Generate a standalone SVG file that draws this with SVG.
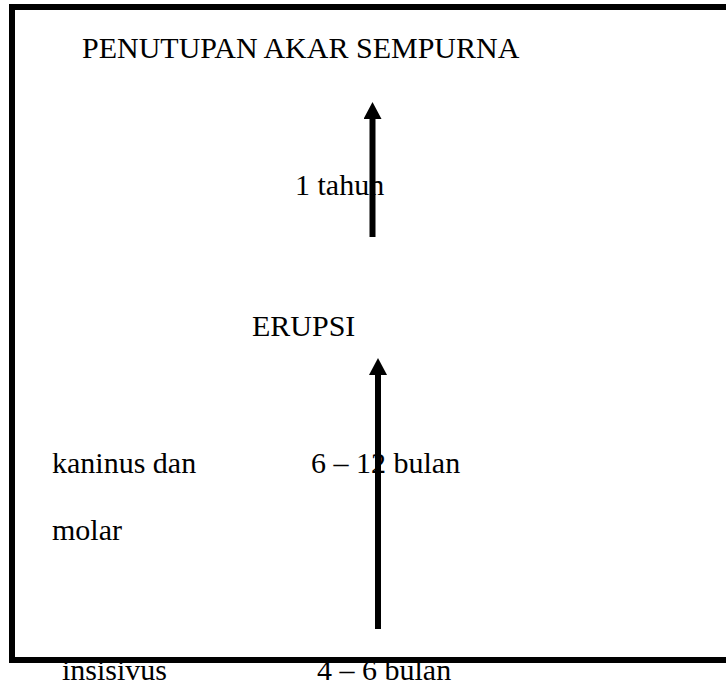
<svg xmlns="http://www.w3.org/2000/svg" width="726" height="686" viewBox="0 0 726 686">
  <style>
    .lbl { font-family: "Liberation Serif", "Times New Roman", serif; font-size: 30px; fill: #000; }
    .shaft { stroke: #000; stroke-width: 6; fill: none; marker-end: url(#head); }
    .frame { stroke: #000; stroke-width: 6; fill: none; }
  </style>
  <defs>
    <marker id="head" markerUnits="userSpaceOnUse" markerWidth="17" markerHeight="18" viewBox="0 0 17 18" refX="0" refY="9" orient="auto">
      <path d="M0,0 L17,9 L0,18 z" fill="#000"/>
    </marker>
  </defs>
  <rect width="726" height="686" fill="#fff"/>

  <g id="node-penutupan">
    <text class="lbl" x="82" y="58">PENUTUPAN AKAR SEMPURNA</text>
  </g>
  <g id="node-1tahun">
    <text class="lbl" x="295" y="195">1 tahun</text>
  </g>
  <g id="node-erupsi">
    <text class="lbl" x="252" y="336">ERUPSI</text>
  </g>
  <g id="node-kaninus">
    <text class="lbl" x="52" y="473">kaninus dan</text>
    <text class="lbl" x="52" y="540">molar</text>
  </g>
  <g id="node-6-12">
    <text class="lbl" x="311" y="473">6 – 12 bulan</text>
  </g>
  <g id="node-insisivus">
    <text class="lbl" x="62" y="680">insisivus</text>
  </g>
  <g id="node-4-6">
    <text class="lbl" x="317" y="680">4 – 6 bulan</text>
  </g>

  <g id="connectors">
    <line class="shaft" x1="372.5" y1="237" x2="372.5" y2="119"/>
    <line class="shaft" x1="378" y1="629" x2="378" y2="375"/>
  </g>

  <!-- outer frame, drawn over the bottom labels -->
  <rect class="frame" x="12" y="7" width="800" height="653"/>
</svg>
